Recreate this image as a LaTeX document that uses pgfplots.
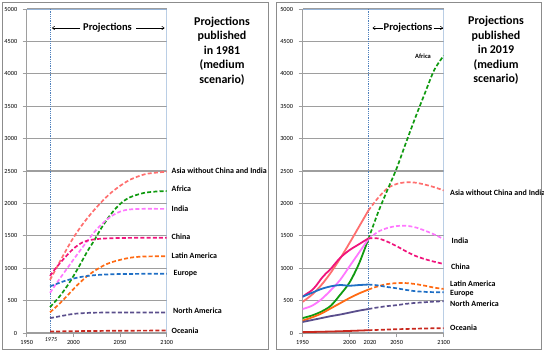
\documentclass[border=0pt]{standalone}
\usepackage{pgfplots}
\pgfplotsset{compat=1.18}
\usepackage{fontspec}
\setmainfont{Carlito}
\usetikzlibrary{arrows.meta}
\definecolor{asia}{HTML}{FF6F6F}
\definecolor{afr}{HTML}{109A10}
\definecolor{ind}{HTML}{FF77FF}
\definecolor{chn}{HTML}{F0147C}
\definecolor{lat}{HTML}{FF6A13}
\definecolor{eur}{HTML}{1F6FC5}
\definecolor{nam}{HTML}{5A4E8C}
\definecolor{oce}{HTML}{C8281E}
\definecolor{gridc}{HTML}{9E9E9E}
\definecolor{frameb}{HTML}{95B3D7}
\definecolor{projl}{HTML}{4F81BD}
\definecolor{boxc}{HTML}{8C8C8C}
\pgfplotsset{
  panel/.style={
    scale only axis, height=324bp,
    xmin=1950, xmax=2100, ymin=0, ymax=5000,
    xtick={1950,2000,2050,2100}, ytick={0,500,...,5000},
    ymajorgrids, major grid style={gridc, line width=1.3bp},
    axis x line*=bottom, axis y line*=left,
    axis line style={gridc, line width=1bp, -},
    tick style={gridc, line width=0.8bp},
    tick align=outside, major tick length=4bp,
    tick label style={font=\fontsize{6.3}{7}\selectfont},
    yticklabel style={xshift=-2bp},
    /pgf/number format/assume math mode=true,
    /pgf/number format/1000 sep={},
    clip=true,
  },
  dsh/.style={line width=1.7bp, dash pattern=on 4bp off 2.2bp, smooth},
  sol/.style={line width=1.8bp, smooth},
}
\begin{document}
\begin{tikzpicture}[x=1bp,y=1bp]
\useasboundingbox (0,0) rectangle (544,352);
\draw[boxc, line width=0.8bp] (2,3) rectangle (268,350);
\draw[boxc, line width=0.8bp] (276,3) rectangle (541,350);
% ---------------- left panel (1981) ----------------
\begin{axis}[panel, width=140bp, at={(26.7bp,19bp)}, anchor=south west]
\draw[frameb, line width=1bp] (rel axis cs:0,1) -- (rel axis cs:1,1) -- (rel axis cs:1,0);
\draw[projl, densely dotted, line width=0.8bp] (axis cs:1975,0) -- (axis cs:1975,5000);
\addplot[asia, dsh] coordinates {(1975,820) (1990,1220) (2000,1470) (2010,1680) (2020,1860) (2030,2020) (2040,2160) (2050,2270) (2060,2360) (2070,2420) (2080,2460) (2100,2490)};
\addplot[afr, dsh] coordinates {(1975,400) (1985,560) (1995,760) (2005,1000) (2015,1260) (2022,1420) (2030,1620) (2040,1830) (2050,1990) (2060,2090) (2075,2160) (2090,2185) (2100,2190)};
\addplot[ind, dsh] coordinates {(1975,620) (1985,830) (1995,1030) (2005,1230) (2015,1420) (2025,1600) (2035,1740) (2045,1840) (2055,1895) (2070,1915) (2100,1915)};
\addplot[chn, dsh] coordinates {(1975,880) (1980,980) (1990,1150) (2000,1300) (2010,1400) (2020,1440) (2035,1460) (2060,1468) (2100,1470)};
\addplot[lat, dsh] coordinates {(1975,320) (1985,450) (1995,600) (2005,750) (2015,880) (2025,980) (2035,1060) (2045,1110) (2060,1160) (2075,1180) (2100,1185)};
\addplot[eur, dsh] coordinates {(1975,720) (1990,800) (2000,840) (2010,870) (2025,895) (2050,910) (2100,915)};
\addplot[nam, dsh] coordinates {(1975,230) (1990,270) (2000,295) (2015,310) (2030,315) (2100,318)};
\addplot[oce, dsh] coordinates {(1975,22) (2000,28) (2050,35) (2100,38)};
\end{axis}
% ---------------- right panel (2019) ----------------
\begin{axis}[panel, width=141.2bp, at={(302.5bp,19bp)}, anchor=south west]
\draw[frameb, line width=1bp] (rel axis cs:0,1) -- (rel axis cs:1,1) -- (rel axis cs:1,0);
\draw[projl, densely dotted, line width=0.8bp] (axis cs:2020,0) -- (axis cs:2020,5000);
% observed (solid)
\addplot[asia, sol] coordinates {(1950,480) (1960,590) (1970,740) (1980,930) (1990,1150) (2000,1390) (2010,1640) (2020,1890)};
\addplot[afr, sol] coordinates {(1950,230) (1960,270) (1970,330) (1980,420) (1990,590) (2000,780) (2010,1070) (2020,1450)};
\addplot[ind, sol] coordinates {(1950,370) (1960,420) (1970,520) (1980,660) (1990,820) (2000,1030) (2010,1240) (2020,1450)};
\addplot[chn, sol] coordinates {(1950,560) (1955,610) (1960,660) (1965,740) (1970,840) (1975,920) (1980,990) (1990,1160) (2000,1280) (2010,1370) (2020,1460)};
\addplot[lat, sol] coordinates {(1950,190) (1960,240) (1970,300) (1980,380) (1990,460) (2000,540) (2010,610) (2020,670)};
\addplot[eur, sol] coordinates {(1950,560) (1960,620) (1970,680) (1980,720) (1990,740) (2000,730) (2010,740) (2020,748)};
\addplot[nam, sol] coordinates {(1950,170) (1960,200) (1970,230) (1980,260) (1990,285) (2000,315) (2010,345) (2020,370)};
\addplot[oce, sol] coordinates {(1950,13) (1980,23) (2000,32) (2020,43)};
% projections (dashed)
\addplot[asia, dsh] coordinates {(2020,1890) (2030,2080) (2040,2230) (2050,2300) (2060,2325) (2070,2320) (2080,2290) (2090,2250) (2100,2200)};
\addplot[afr, dsh] coordinates {(2020,1450) (2030,1850) (2040,2200) (2050,2540) (2060,2940) (2070,3330) (2080,3700) (2090,4060) (2100,4280)};
\addplot[ind, dsh] coordinates {(2020,1450) (2030,1560) (2040,1620) (2050,1650) (2060,1655) (2070,1630) (2080,1580) (2090,1520) (2100,1450)};
\addplot[chn, dsh] coordinates {(2020,1460) (2030,1460) (2040,1410) (2050,1340) (2060,1260) (2070,1190) (2080,1140) (2090,1100) (2100,1065)};
\addplot[lat, dsh] coordinates {(2020,670) (2030,720) (2040,755) (2050,770) (2060,770) (2070,755) (2080,730) (2090,700) (2100,680)};
\addplot[eur, dsh] coordinates {(2020,748) (2030,735) (2040,710) (2050,690) (2060,665) (2070,645) (2080,635) (2090,630) (2100,628)};
\addplot[nam, dsh] coordinates {(2020,370) (2030,395) (2040,415) (2050,430) (2060,450) (2070,465) (2080,475) (2090,485) (2100,490)};
\addplot[oce, dsh] coordinates {(2020,43) (2050,58) (2080,70) (2100,75)};
\end{axis}
% ---------------- text ----------------
\begin{scope}[every node/.style={font=\bfseries\fontsize{8}{9}\selectfont, inner sep=0pt, anchor=west}]
\node at (171.5,181) {Asia without China and India};
\node at (171.5,163) {Africa};
\node at (171.5,143) {India};
\node at (171.5,115) {China};
\node at (171.5,96) {Latin America};
\node at (173.5,78) {Europe};
\node at (173,41) {North America};
\node at (171.5,21) {Oceania};
\node at (450,159) {Asia without China and India};
\node at (451.5,111) {India};
\node at (451,85) {China};
\node at (450,68) {Latin America};
\node at (450,58) {Europe};
\node at (450,48) {North America};
\node at (450,24) {Oceania};
\node[anchor=center, font=\bfseries\fontsize{6.5}{7}\selectfont] at (423,296) {Africa};
\end{scope}
\begin{scope}[every node/.style={font=\bfseries\fontsize{12}{14.5}\selectfont, align=center, inner sep=0pt}]
\node at (222,301) {Projections\\published\\in 1981\\(medium\\scenario)};
\node at (496,301.5) {Projections\\published\\in 2019\\(medium\\scenario)};
\end{scope}
\node[font=\bfseries\fontsize{10.5}{12}\selectfont, inner sep=0pt] at (107.5,324) {Projections};
\draw[-{To[length=3bp,width=4bp]}, line width=0.5bp] (80,324) -- (52,324);
\draw[-{To[length=3bp,width=4bp]}, line width=0.5bp] (136,324) -- (164.5,324);
\node[font=\bfseries\fontsize{10.5}{12}\selectfont, inner sep=0pt] at (408,324) {Projections};
\draw[-{To[length=3bp,width=4bp]}, line width=0.5bp] (382.5,324) -- (372.5,324);
\draw[-{To[length=3bp,width=4bp]}, line width=0.5bp] (433.5,324) -- (443,324);
\node[font=\itshape\fontsize{6}{7}\selectfont, inner sep=0pt] at (51,12.5) {1975};
\node[font=\fontsize{6.3}{7}\selectfont, inner sep=0pt] at (370,10) {2020};
\end{tikzpicture}
\end{document}
